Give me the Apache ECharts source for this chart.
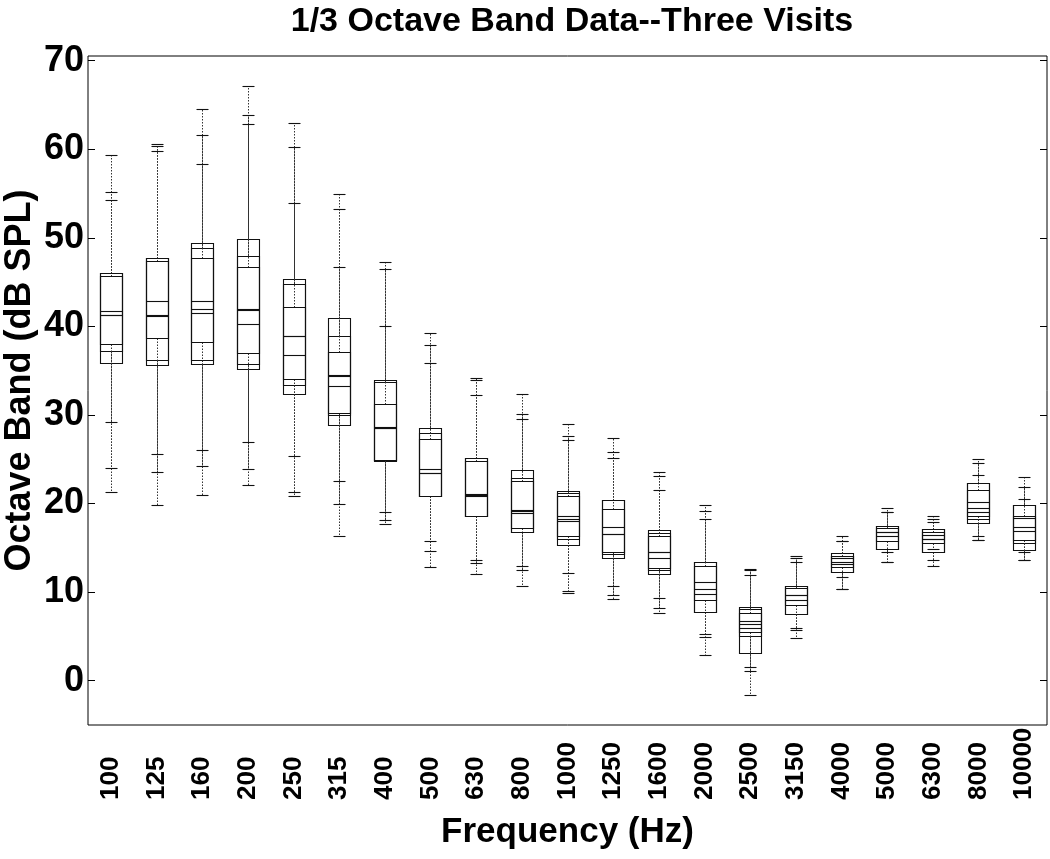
<!DOCTYPE html>
<html>
<head>
<meta charset="utf-8">
<style>html,body{margin:0;padding:0;background:#fff;}#chart{width:1050px;height:859px;}</style>
<script src="https://cdn.jsdelivr.net/npm/echarts@6/dist/echarts.min.js"></script>
</head>
<body>
<div id="chart"></div>
<script>
// Frequency bands (Hz)
const frequencies = ['100','125','160','200','250','315','400','500','630','800','1000','1250','1600','2000','2500','3150','4000','5000','6300','8000','10000'];
// y-axis tick labels
const yTicks = [0, 10, 20, 30, 40, 50, 60, 70];
// Each visit: per band [lower whisker, Q1, median, Q3, upper whisker] (dB SPL)
const visit1 = [
  [21.25, 35.9, 41.3, 46.0, 59.3],
  [19.8, 35.6, 41.2, 47.7, 60.6],
  [21.0, 35.8, 41.5, 49.4, 64.6],
  [22.1, 35.2, 42.0, 49.85, 67.1],
  [20.9, 32.4, 38.9, 45.3, 63.0],
  [16.3, 28.9, 34.5, 41.0, 55.0],
  [17.7, 24.8, 28.7, 33.97, 47.3],
  [12.8, 20.85, 23.5, 28.5, 39.3],
  [12.1, 18.55, 21.1, 25.2, 34.15],
  [10.7, 16.8, 19.3, 23.8, 32.4],
  [9.9, 15.35, 18.0, 21.45, 28.97],
  [9.2, 13.85, 16.55, 20.4, 27.35],
  [7.7, 12.05, 13.9, 17.05, 23.6],
  [2.9, 7.8, 11.1, 13.4, 19.86],
  [-1.6, 3.1, 5.95, 8.3, 12.65],
  [4.8, 7.5, 9.15, 10.7, 14.1],
  [10.4, 12.3, 13.45, 14.4, 16.3],
  [13.45, 14.85, 16.35, 17.45, 19.45],
  [12.9, 14.5, 16.05, 17.1, 18.6],
  [15.85, 17.85, 19.45, 22.35, 25.0],
  [13.65, 14.8, 16.85, 19.8, 23.05]
];
const visit2 = [
  [24.0, 37.2, 41.7, 45.7, 55.2],
  [23.6, 36.2, 42.9, 47.4, 60.4],
  [24.2, 36.2, 42.9, 48.8, 61.6],
  [23.9, 35.8, 40.3, 47.9, 63.9],
  [21.3, 33.4, 36.8, 44.8, 60.3],
  [19.9, 30.0, 33.3, 38.9, 53.2],
  [18.1, 24.9, 28.5, 33.7, 46.5],
  [14.7, 20.85, 23.9, 27.95, 37.85],
  [13.3, 18.65, 20.9, 24.8, 33.9],
  [12.45, 17.2, 18.9, 22.9, 30.1],
  [10.1, 16.0, 18.55, 21.2, 27.6],
  [9.7, 14.3, 17.4, 19.4, 25.8],
  [8.16, 12.5, 14.55, 16.7, 23.1],
  [4.9, 9.15, 10.35, 13.4, 19.2],
  [1.05, 5.1, 6.45, 8.1, 12.45],
  [5.75, 7.5, 9.7, 10.5, 13.8],
  [10.4, 12.8, 13.8, 14.1, 15.8],
  [13.45, 14.85, 16.8, 17.2, 19.1],
  [13.65, 14.5, 16.45, 16.8, 18.25],
  [15.85, 18.25, 19.0, 21.5, 24.6],
  [13.65, 15.6, 17.4, 18.6, 21.85]
];
const visit3 = [
  [29.2, 38.0, 41.3, 46.0, 54.3],
  [25.6, 38.7, 41.3, 47.7, 59.8],
  [26.0, 38.2, 41.95, 47.7, 58.3],
  [27.0, 37.05, 41.9, 46.7, 62.8],
  [25.4, 34.1, 38.9, 42.2, 53.9],
  [22.6, 30.2, 34.35, 37.1, 46.7],
  [19.0, 24.9, 28.5, 31.2, 40.0],
  [15.8, 20.9, 23.5, 27.3, 35.9],
  [13.65, 18.6, 21.0, 25.2, 32.3],
  [12.9, 16.8, 19.15, 22.5, 29.5],
  [12.2, 16.3, 18.3, 20.8, 27.2],
  [10.7, 14.55, 16.55, 20.4, 25.2],
  [9.3, 12.75, 14.55, 16.3, 21.55],
  [5.3, 7.8, 9.8, 12.9, 18.3],
  [1.5, 5.5, 6.7, 7.7, 11.9],
  [5.9, 8.6, 9.7, 10.7, 13.4],
  [11.7, 12.3, 13.2, 14.1, 15.8],
  [14.5, 15.8, 16.8, 17.45, 19.1],
  [14.85, 15.6, 16.05, 17.1, 17.9],
  [16.35, 18.55, 20.2, 22.35, 23.25],
  [14.5, 15.9, 18.4, 19.8, 20.5]
];

const FONT = '"Liberation Sans", Arial, Helvetica, sans-serif';

function px(v) { return Math.round(v) + 0.5; }

function renderBox(params, api) {
  const x = api.value(0);
  const c = api.coord([x, api.value(1)]);
  const cx = px(c[0]);
  const yLow = px(c[1]);
  const yQ1 = px(api.coord([x, api.value(2)])[1]);
  const yMed = px(api.coord([x, api.value(3)])[1]);
  const yQ3 = px(api.coord([x, api.value(4)])[1]);
  const yHigh = px(api.coord([x, api.value(5)])[1]);
  const band = api.size([1, 0])[0];
  const hb = Math.round(band * 0.25);
  const hc = Math.round(band * 0.125);
  const solid = { stroke: '#111', lineWidth: 1.1, fill: null };
  const dash = { stroke: '#333', lineWidth: 1, lineDash: [1.5, 1.5], fill: null };
  return {
    type: 'group',
    children: [
      { type: 'line', shape: { x1: cx, y1: yQ3, x2: cx, y2: yHigh }, style: dash },
      { type: 'line', shape: { x1: cx, y1: yQ1, x2: cx, y2: yLow }, style: dash },
      { type: 'line', shape: { x1: cx - hc, y1: yHigh, x2: cx + hc, y2: yHigh }, style: solid },
      { type: 'line', shape: { x1: cx - hc, y1: yLow, x2: cx + hc, y2: yLow }, style: solid },
      { type: 'rect', shape: { x: cx - hb, y: yQ3, width: 2 * hb, height: yQ1 - yQ3 }, style: solid },
      { type: 'line', shape: { x1: cx - hb, y1: yMed, x2: cx + hb, y2: yMed }, style: solid }
    ]
  };
}

function toData(visit) {
  return visit.map((d, i) => [i].concat(d));
}

const chart = echarts.init(document.getElementById('chart'), null, { renderer: 'canvas' });
const yMin = -5, yMax = 70.53;
const option = {
  backgroundColor: '#fff',
  animation: false,
  title: {
    text: '1/3 Octave Band Data--Three Visits',
    left: 567,
    top: 0,
    textAlign: 'center',
    textStyle: { fontFamily: FONT, fontWeight: 'bold', fontSize: 34, color: '#000' }
  },
  grid: {
    left: 88, right: 3, top: 56, bottom: 134,
    outerBoundsMode: 'none',
    containLabel: false,
    show: true, borderColor: '#000', borderWidth: 1, backgroundColor: 'transparent'
  },
  xAxis: {
    type: 'category',
    data: frequencies,
    boundaryGap: true,
    axisLine: { show: false },
    axisTick: { show: false },
    splitLine: { show: false },
    axisLabel: {
      rotate: 90, align: 'left', margin: 75, interval: 0,
      fontFamily: FONT, fontWeight: 'bold', fontSize: 26, color: '#000'
    },
    name: 'Frequency (Hz)',
    nameLocation: 'middle',
    nameGap: 90,
    nameMoveOverlap: false,
    nameTextStyle: { fontFamily: FONT, fontWeight: 'bold', fontSize: 35, color: '#000' }
  },
  yAxis: [
    {
      type: 'value', min: yMin, max: yMax, position: 'left',
      axisLine: { show: false },
      splitLine: { show: false },
      axisTick: { show: true, inside: true, length: 7, customValues: yTicks, lineStyle: { color: '#000' } },
      axisLabel: { customValues: yTicks, margin: 4, fontFamily: FONT, fontWeight: 'bold', fontSize: 36, color: '#000' },
      name: 'Octave Band (dB SPL)',
      nameLocation: 'middle',
      nameRotate: 90,
      nameGap: 50,
      nameMoveOverlap: false,
      nameTextStyle: { fontFamily: FONT, fontWeight: 'bold', fontSize: 36, color: '#000', padding: [0, 0, 0, 20] }
    },
    {
      type: 'value', min: yMin, max: yMax, position: 'right',
      axisLine: { show: false },
      splitLine: { show: false },
      axisTick: { show: true, inside: true, length: 7, customValues: yTicks, lineStyle: { color: '#000' } },
      axisLabel: { show: false }
    }
  ],
  series: [visit1, visit2, visit3].map((v, k) => ({
    name: 'Visit ' + (k + 1),
    type: 'custom',
    renderItem: renderBox,
    encode: { x: 0, y: [1, 2, 3, 4, 5] },
    data: toData(v),
    clip: false
  }))
};
chart.setOption(option);
</script>
</body>
</html>
